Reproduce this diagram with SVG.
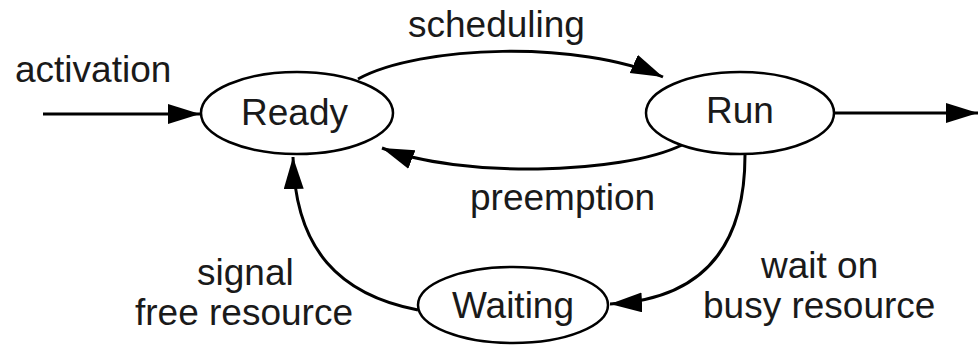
<svg xmlns="http://www.w3.org/2000/svg" width="979" height="345" viewBox="0 0 979 345">
<style>
.node{fill:#fff;stroke:#000;stroke-width:2.5}
.edge{fill:none;stroke:#000;stroke-width:3;marker-end:url(#ah)}
text{font-family:"Liberation Sans",Arial,sans-serif;font-size:37px;fill:#1a1a1a}
</style>
<defs>
<marker id="ah" markerUnits="userSpaceOnUse" markerWidth="34" markerHeight="22" refX="32" refY="10" orient="auto">
<path d="M0,0 L32,10 L0,20 z" fill="#000"/>
</marker>
</defs>
<rect width="979" height="345" fill="#fff"/>
<g id="connectors">
<path class="edge" d="M43,114 L200,114"/>
<path class="edge" d="M358,79 C420,45 580,40 663,77"/>
<path class="edge" d="M682,145 C620,175 460,178 382,148"/>
<path class="edge" d="M835,113 L978,113"/>
<path class="edge" d="M745,155 C745,260 690,300 610,304"/>
<path class="edge" d="M418,310 C340,295 295,250 293,157"/>
</g>
<g id="labels">
<text x="15" y="82">activation</text>
<text x="408" y="37">scheduling</text>
<text x="470" y="210">preemption</text>
<text x="197" y="285">signal</text>
<text x="135" y="325">free resource</text>
<text x="761" y="278">wait on</text>
<text x="703" y="318">busy resource</text>
</g>
<g id="ready">
<ellipse class="node" cx="297" cy="113" rx="96" ry="41"/>
<text x="241" y="125">Ready</text>
</g>
<g id="run">
<ellipse class="node" cx="740" cy="113" rx="94" ry="41"/>
<text x="706" y="123">Run</text>
</g>
<g id="waiting">
<ellipse class="node" cx="513" cy="305" rx="95" ry="38"/>
<text x="452" y="318">Waiting</text>
</g>
</svg>
